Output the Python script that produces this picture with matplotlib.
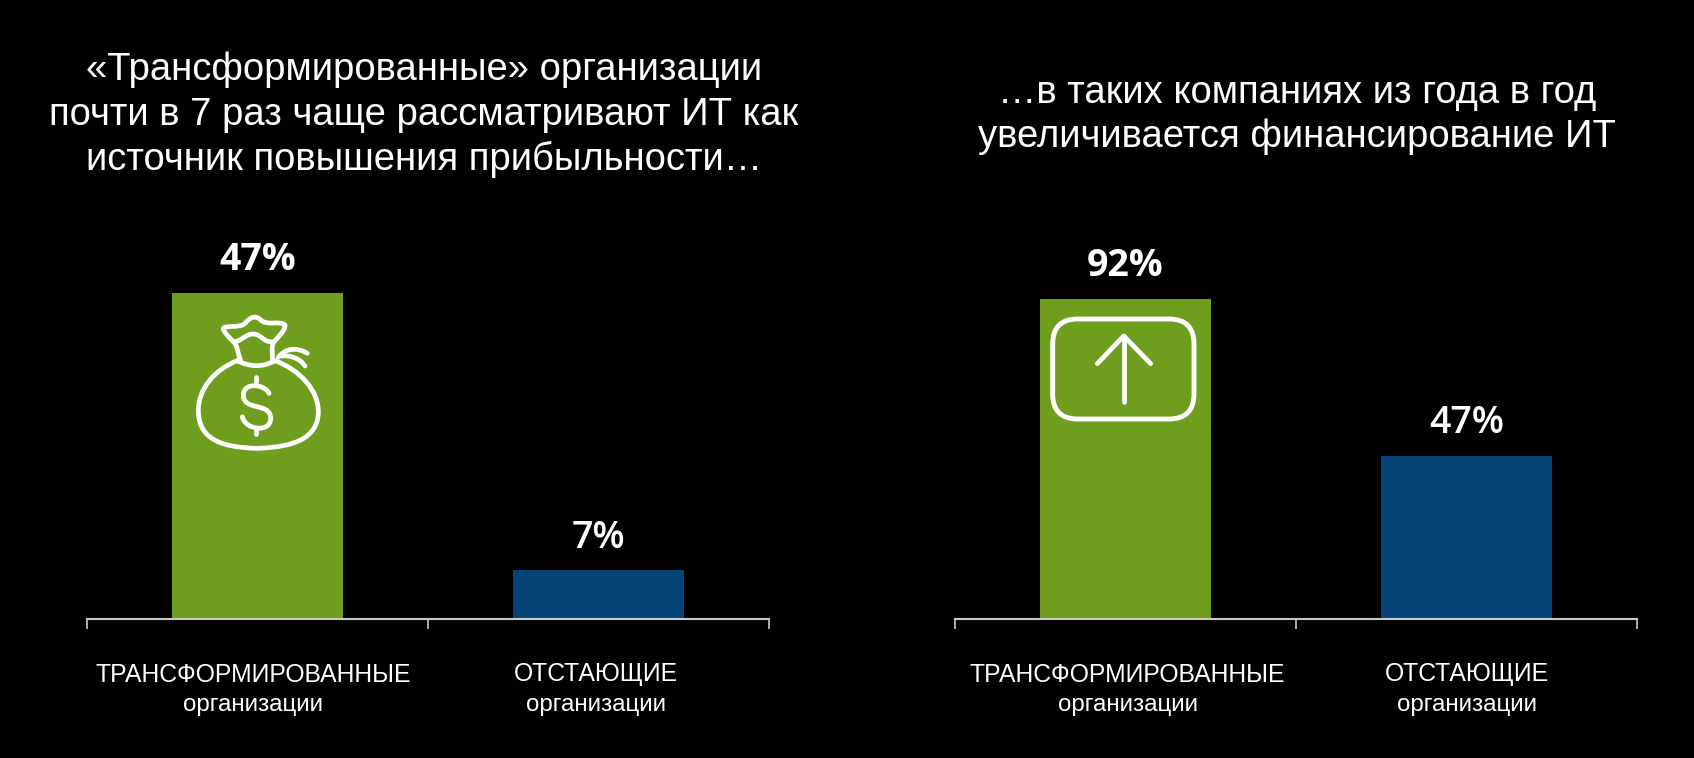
#!/usr/bin/env python
"""plot.py."""
import matplotlib
matplotlib.use('Agg')
import matplotlib.pyplot as plt
from matplotlib.path import Path
from matplotlib.patches import PathPatch, FancyBboxPatch
from matplotlib.ticker import FixedLocator

W, H = 1694, 758
GREEN = '#6f9e1f'
BLUE = '#064477'
AXIS = '#c9c9c9'

categories = ['ТРАНСФОРМИРОВАННЫЕ', 'ОТСТАЮЩИЕ']
sublabel = 'организации'
left_values = [47, 7]
right_values = [92, 47]
left_title = ('«Трансформированные» организации\n'
              'почти в 7 раз чаще рассматривают ИТ как\n'
              'источник повышения прибыльности…')
right_title = '…в таких компаниях из года в год\nувеличивается финансирование ИТ'


def make_panel(fig, x0, x1, top, bottom, values, ymax, dx):
    """Draw one bar panel, positions given in pixels."""
    ax = fig.add_axes([x0 / W, 1 - bottom / H, (x1 - x0) / W, (bottom - top) / H])
    ax.set_facecolor('none')
    ax.bar([0.5, 1.5], values, width=0.5, color=[GREEN, BLUE])
    ax.set_xlim(0, 2)
    ax.set_ylim(0, ymax)
    for s in ['top', 'left', 'right']:
        ax.spines[s].set_visible(False)
    ax.spines['bottom'].set_color(AXIS)
    ax.spines['bottom'].set_linewidth(1.5)
    ax.set_yticks([])
    ax.set_xticks([])
    ax.xaxis.set_minor_locator(FixedLocator([0, 1, 2]))
    ax.tick_params(axis='x', which='minor', length=7.2, width=1.2, color=AXIS)

    weights = ['bold', 600]
    for i, v in enumerate(values):
        ax.annotate(str(v) + '%', (i + 0.5, v), xytext=(0, 10),
                    textcoords='offset points', ha='center', va='bottom',
                    color='white', fontsize=27, family='Open Sans',
                    fontweight=weights[i])
        ax.annotate(categories[i], (i + 0.5, 0), xytext=(dx[i], -45),
                    textcoords='offset points', ha='center', va='baseline',
                    color='white', fontsize=17.8, family='Liberation Sans')
        ax.annotate(sublabel, (i + 0.5, 0), xytext=(dx[i], -66.5),
                    textcoords='offset points', ha='center', va='baseline',
                    color='white', fontsize=17.4, family='Liberation Sans')
    return ax


def icon_line(ov, verts, codes=None):
    """Draw one white icon stroke."""
    ov.add_patch(PathPatch(Path(verts, codes), fc='none', ec='white', lw=3.4,
                           capstyle='round', joinstyle='round'))


def draw_bag(ov):
    """Draw the money bag icon, coordinates in pixels."""
    def z(pts):
        return [(150 + a / 3, 230 + b / 3) for a, b in pts]
    C = Path.CURVE4
    M = Path.MOVETO
    L = Path.LINETO
    body = z([(262, 392), (190, 420), (145, 480), (145, 540),
              (145, 620), (200, 652), (320, 655),
              (440, 652), (505, 620), (505, 545),
              (505, 480), (450, 420), (375, 392),
              (340, 412), (300, 412), (262, 392)])
    icon_line(ov, body, [M] + [C] * 15)
    neck = z([(272, 392), (262, 365), (262, 345), (250, 335),
              (235, 320), (220, 305), (220, 295),
              (225, 285), (270, 295), (285, 280),
              (300, 262), (315, 255), (330, 268),
              (350, 290), (390, 270), (405, 285),
              (405, 305), (385, 320), (372, 335),
              (362, 350), (368, 375), (368, 392)])
    icon_line(ov, neck, [M] + [C] * 21)
    inner = z([(250, 335), (275, 335), (285, 312), (310, 312),
               (335, 312), (340, 340), (372, 335)])
    icon_line(ov, inner, [M] + [C] * 6)
    icon_line(ov, z([(385, 382), (405, 355), (440, 350), (472, 370)]), [M, C, C, C])
    icon_line(ov, z([(395, 378), (420, 375), (450, 385), (465, 408)]), [M, C, C, C])
    dollar = z([(357, 490), (345, 462), (280, 455), (280, 495),
                (280, 545), (362, 515), (362, 565),
                (362, 610), (285, 600), (277, 560)])
    icon_line(ov, dollar, [M] + [C] * 9)
    icon_line(ov, z([(319, 442), (319, 455)]), [M, L])
    icon_line(ov, z([(319, 598), (319, 611)]), [M, L])


def draw_arrow_box(ov):
    """Draw the rounded box with an up arrow, coordinates in pixels."""
    def z(pts):
        return [(1020 + a / 3, 230 + b / 3) for a, b in pts]
    x, y = z([(98, 267)])[0]
    ov.add_patch(FancyBboxPatch((x + 25, y + 25), 424 / 3 - 50, 300 / 3 - 50,
                                boxstyle='round,pad=25,rounding_size=25',
                                fc='none', ec='white', lw=3.5))
    icon_line(ov, z([(311, 318), (311, 516)]))
    icon_line(ov, z([(232, 401), (311, 318), (392, 401)]))


def main():
    """Build the figure and save it."""
    fig = plt.figure(figsize=(W / 100, H / 100), dpi=100, facecolor='black')
    make_panel(fig, 87, 769, 293, 619, left_values, 47, [-3, -1.5])
    make_panel(fig, 955, 1637, 299, 619, right_values, 92, [1.5, 0])

    ov = fig.add_axes([0, 0, 1, 1])
    ov.set_xlim(0, W)
    ov.set_ylim(H, 0)
    ov.axis('off')
    ov.patch.set_alpha(0)
    draw_bag(ov)
    draw_arrow_box(ov)
    ov.text(424, 115, left_title, ha='center', va='center', color='white',
            fontsize=27.5, family='Liberation Sans', linespacing=1.29)
    ov.text(1297, 115, right_title, ha='center', va='center', color='white',
            fontsize=27.5, family='Liberation Sans', linespacing=1.29)

    fig.savefig('out.png', dpi=100, facecolor='black')


if __name__ == "__main__":
    main()
